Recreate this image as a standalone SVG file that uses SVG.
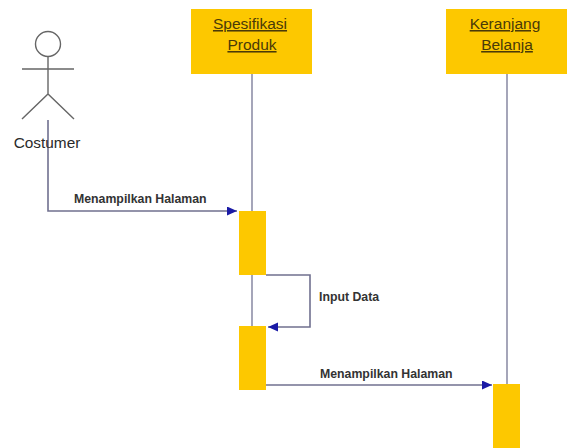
<svg xmlns="http://www.w3.org/2000/svg" width="571" height="448" viewBox="0 0 571 448">
<style>
text{font-family:"Liberation Sans",Arial,sans-serif;fill:#2a2a2a}
.box{fill:#fdc800}
.title{font-size:15.5px;text-anchor:middle;text-decoration:underline;fill:#4a3a08}
.msg{font-size:12.3px;font-weight:bold;fill:#333}
.life{stroke:#8f90a8;stroke-width:1.6;fill:none}
.conn{stroke:#70708f;stroke-width:1.6;fill:none}
.act{stroke:#666;stroke-width:1.4;fill:none}
</style>
<defs>
<marker id="arrow" markerUnits="userSpaceOnUse" markerWidth="11" markerHeight="10" refX="10" refY="4.5" orient="auto"><path d="M0 0L10 4.5L0 9Z" fill="#1a1aa6"/></marker>
</defs>
<g id="connectors">
<path class="life" d="M252 73V211M252 275V326M507 73V384"/>
<path class="conn" d="M48 120V211H237" marker-end="url(#arrow)"/>
<path class="conn" d="M266 275H310V327H268" marker-end="url(#arrow)"/>
<path class="conn" d="M266 385H492" marker-end="url(#arrow)"/>
</g>
<g id="costumer">
<circle class="act" cx="48" cy="44" r="12.5"/>
<path class="act" d="M48 56V94M22 69H74M22 119L48 94L74 119"/>
<text x="47" y="148" font-size="15.4" text-anchor="middle">Costumer</text>
</g>
<g id="spesifikasi-produk">
<rect class="box" x="191" y="9" width="121" height="65"/>
<text class="title" x="250" y="29">Spesifikasi </text>
<text class="title" x="252" y="50">Produk </text>
</g>
<g id="keranjang-belanja">
<rect class="box" x="446" y="9" width="121" height="65"/>
<text class="title" x="505" y="29">Keranjang </text>
<text class="title" x="507" y="50">Belanja</text>
</g>
<g id="activation-1"><rect class="box" x="239" y="211" width="27" height="64"/></g>
<g id="activation-2"><rect class="box" x="239" y="326" width="27" height="64"/></g>
<g id="activation-3"><rect class="box" x="493" y="384" width="27" height="64"/></g>
<g id="labels">
<text class="msg" x="74" y="203">Menampilkan Halaman</text>
<text class="msg" x="319" y="301">Input Data</text>
<text class="msg" x="320" y="378">Menampilkan Halaman</text>
</g>
</svg>
